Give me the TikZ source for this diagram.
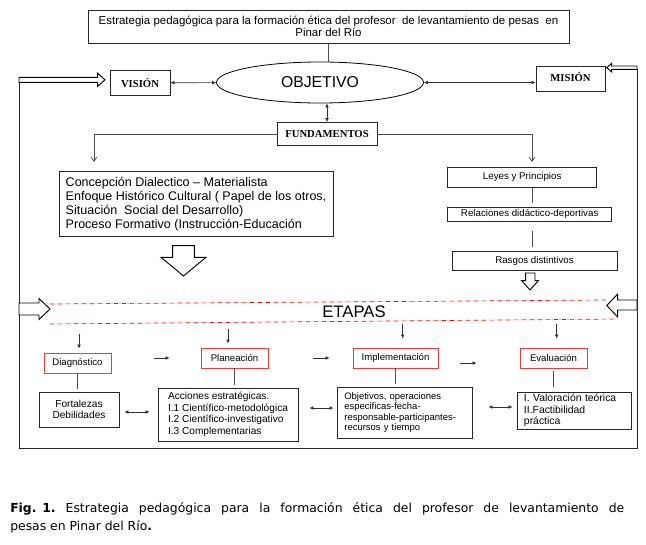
\documentclass[tikz,border=0pt]{standalone}
\usepackage{fontspec}
\setmainfont{Liberation Sans}
\newfontfamily\negrita{Liberation Serif}
\newfontfamily\pie{DejaVu Sans}
\usetikzlibrary{arrows.meta,shapes.geometric}
\begin{document}
\begin{tikzpicture}[x=0.75pt,y=-0.75pt]
            \tikzstyle{caja}=[draw=black!85,line width=0.6pt,inner sep=0pt,fill=white]
            \tikzstyle{rotulo}=[caja,font=\negrita\bfseries\fontsize{8}{9}\selectfont]
            \tikzstyle{etapa}=[caja,draw=red!80,font=\fontsize{7.2}{8.6}\selectfont,minimum width=50.25pt,minimum height=15pt]
            \tikzstyle{flecha}=[black!80,line width=0.5pt,>={Latex[length=3pt,width=2.8pt]}]
            \tikzstyle{linea}=[gray!60!black,line width=0.6pt]
            \tikzstyle{hueca}=[draw=black,line width=0.7pt,fill=white]
            \useasboundingbox (0,0) rectangle (646,545);
            \node[caja,minimum width=360.75pt,minimum height=24.75pt,align=center,font=\fontsize{8.6}{9}\selectfont] (titulo) at (328.5,26.5) {Estrategia pedagógica para la formación ética del profesor \ de levantamiento de pesas \ en\\Pinar del Río};
            \node[draw,ellipse,line width=0.6pt,minimum width=155.25pt,minimum height=30.75pt,inner sep=0pt,font=\fontsize{11.8}{12}\selectfont] (objetivo) at (320,82.5) {OBJETIVO};
            \node[rotulo,minimum width=45pt,minimum height=18.4pt] (vision) at (140,82.75) {VISIÓN};
            \node[rotulo,minimum width=51.75pt,minimum height=18.75pt] (mision) at (570.5,78.5) {\raisebox{2pt}{MISIÓN}};
            \node[rotulo,minimum width=75pt,minimum height=17.25pt] (fundamentos) at (327,134) {FUNDAMENTOS};
            \draw[linea] (titulo.south) -- (titulo.south |- objetivo.north);
            \draw[flecha,<->] (vision) -- (objetivo);
            \draw[flecha,<->] (objetivo.east) -- (objetivo.east -| mision.west);
            \draw[flecha,<->] (fundamentos.north) -- (fundamentos.north |- objetivo.south);
            \coordinate (izq) at (94,162);
            \coordinate (der) at (532,162);
            \draw[linea,-{Straight Barb[length=3pt,width=4pt]}] (fundamentos.west) -| (izq);
            \draw[linea,-{Straight Barb[length=3pt,width=4pt]}] (fundamentos.east) -| (der);
            \node[caja,minimum width=205.5pt,minimum height=48.75pt,align=left,font=\fontsize{9.4}{10.7}\selectfont] (concepcion) at (196,204.2) {Concepción Dialectico – Materialista\\Enfoque Histórico Cultural ( Papel de los otros,\\Situación \ Social del Desarrollo)\\Proceso Formativo (Instrucción-Educación};
            \draw[hueca] (172.7,245.7) -- (194.3,245.7) -- (194.3,257.3) -- (206,257.3) -- (183.5,276) -- (161,257.3) -- (172.7,257.3) -- cycle;
            \node[caja,minimum width=111.75pt,minimum height=15pt,font=\fontsize{7.3}{8}\selectfont] (leyes) at (522.2,177) {Leyes y Principios};
            \node[caja,minimum width=123pt,minimum height=10.5pt,font=\fontsize{7.3}{8}\selectfont] (relaciones) at (529.7,214.2) {Relaciones didáctico-deportivas};
            \node[caja,minimum width=123.75pt,minimum height=14.25pt,font=\fontsize{7.3}{8}\selectfont] (rasgos) at (534.5,260.5) {Rasgos distintivos};
            \draw[linea,shorten >=3pt] (der |- leyes.south) -- (der |- relaciones.north);
            \draw[linea,shorten <=6.75pt,shorten >=3pt] (der |- relaciones.south) -- (der |- rasgos.north);
            \draw[hueca] (525.7,273) -- (535,273) -- (535,280.7) -- (538.3,280.7) -- (530,290) -- (521.7,280.7) -- (525.7,280.7) -- cycle;
            \draw[black!85,line width=0.7pt] (19,82.3) -- (19,448.5) -- (637,448.5) -- (637,69.3);
            \draw[hueca] (19,77.3) -- (97.7,77.3) -- (97.7,73.3) -- (105,79.8) -- (97.7,86.3) -- (97.7,82.3) -- (19,82.3) -- cycle;
            \draw[hueca] (637,66) -- (611.7,66) -- (611.7,63.3) -- (606.7,67.7) -- (611.7,72) -- (611.7,69.3) -- (637,69.3) -- cycle;
            \draw[hueca] (19,303) -- (39,303) -- (39,298.5) -- (50,309) -- (39,319.5) -- (39,315) -- (19,315) -- cycle;
            \draw[hueca] (637,300) -- (617.7,300) -- (617.7,294) -- (606.7,305.5) -- (617.7,317) -- (617.7,310) -- (637,310) -- cycle;
            \draw[red,line width=0.5pt,dash pattern=on 3pt off 1.2pt on 0.6pt off 1.2pt] (50,304) -- (606,300);
            \draw[red,line width=0.5pt,dash pattern=on 3pt off 1.2pt on 0.6pt off 1.2pt] (50,324) -- (618,319);
            \node[font=\fontsize{12.5}{13}\selectfont] (etapas) at (354,311.7) {ETAPAS};
            \node[etapa] (diag) at (77.5,363) {Diagnóstico};
            \node[etapa] (plan) at (234.5,358) {Planeación};
            \node[etapa,minimum width=63.75pt] (impl) at (395.5,358) {Implementación};
            \node[etapa] (eval) at (553.5,358) {Evaluación};
            \coordinate (e1) at (79,334);
            \coordinate (e2) at (228,329);
            \coordinate (e3) at (402.7,324);
            \coordinate (e4) at (556.7,324);
            \draw[flecha,->,shorten >=3pt] (e1) -- (e1 |- diag.north);
            \draw[flecha,->,shorten >=3pt] (e2) -- (e2 |- plan.north);
            \draw[flecha,->,shorten >=6.75pt] (e3) -- (e3 |- impl.north);
            \draw[flecha,->,shorten >=6.75pt] (e4) -- (e4 |- eval.north);
            \draw[flecha,->,shorten <=32.25pt,shorten >=23.25pt] (diag.east |- plan.west) -- (plan.west);
            \draw[flecha,->,shorten <=33.75pt,shorten >=17.25pt] (plan.east) -- (impl.west);
            \path (impl.east) ++(0,5) coordinate (ie);
            \draw[flecha,->,shorten <=16.5pt,shorten >=32.25pt] (ie) -- (ie -| eval.west);
            \node[caja,minimum width=60pt,minimum height=26.25pt,align=center,font=\fontsize{7.6}{8.8}\selectfont] (fort) at (79,409.5) {Fortalezas\\Debilidades};
            \node[caja,minimum width=105pt,minimum height=39.75pt,align=left,font=\fontsize{7.6}{8.7}\selectfont] (acc) at (228,414.5) {Acciones estratégicas.\\I.1 Científico-metodológica\\I.2 Científico-investigativo\\I.3 Complementarias};
            \node[caja,minimum width=101.25pt,minimum height=38.25pt,text width=91.25pt,inner xsep=5pt,align=left,font=\fontsize{7.1}{7.95}\selectfont] (obj) at (405.2,412.5) {Objetivos, operaciones\\especificas-fecha-\\responsable-participantes-\\recursos y tiempo};
            \node[caja,minimum width=85.5pt,minimum height=27.75pt,text width=76.1pt,inner xsep=4.7pt,align=left,font=\fontsize{7.8}{8.5}\selectfont] (val) at (574.7,410.5) {I. Valoración teórica\\II.Factibilidad\\práctica};
            \draw[linea,shorten >=2.25pt] (diag.south) -- (diag.south |- fort.north);
            \draw[linea,shorten >=2.25pt] (plan.south) -- (plan.south |- acc.north);
            \draw[linea,shorten >=2.25pt] (impl.south) -- (impl.south |- obj.north);
            \draw[linea,shorten <=2.25pt,shorten >=3.75pt] (eval.south) -- (eval.south |- val.north);
            \path (fort.east) ++(0,2.5) coordinate (fa);
            \draw[flecha,<->,shorten <=3.75pt,shorten >=6pt] (fa) -- (fa -| acc.west);
            \path (obj.west) ++(0,-4.5) coordinate (ob);
            \draw[flecha,<->,shorten <=8.25pt,shorten >=2.8pt] (ob -| acc.east) -- (ob);
            \path (val.west) ++(0,-3.5) coordinate (va);
            \draw[flecha,<->,shorten <=11.5pt,shorten >=3.5pt] (va -| obj.east) -- (va);
            \node[anchor=base west,inner sep=0pt,font=\pie\fontsize{9.3}{11}\selectfont] (pie1) at (10,512.3) {\makebox[460.5pt][s]{\hbox{\textbf{Fig. 1.}} Estrategia pedagógica para la formación ética del profesor de levantamiento de}};
            \node[anchor=base west,inner sep=0pt,font=\pie\fontsize{9.3}{11}\selectfont] (pie2) at (10,530.5) {pesas en Pinar del Río\textbf{.}};
        \end{tikzpicture}
\end{document}
